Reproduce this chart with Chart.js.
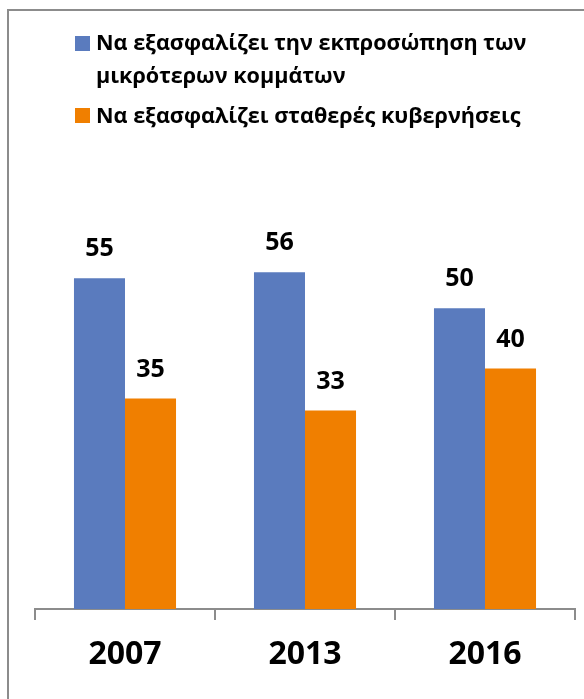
<!DOCTYPE html>
<html>
<head>
<meta charset="utf-8">
<script src="https://cdn.jsdelivr.net/npm/chart.js@4"></script>
<style>
  html, body { margin: 0; padding: 0; width: 584px; height: 699px; overflow: hidden; background: #fff; }
  #frame { position: absolute; left: 7px; top: 9px; width: 620px; height: 720px; border: 2px solid #8c8c8c; box-sizing: border-box; }
  #wrap { position: absolute; left: 0; top: 0; width: 584px; height: 699px; }
  .leg { position: absolute; font-family: "Open Sans", sans-serif; font-weight: bold; font-size: 21.6px; color: #000; line-height: 33px; white-space: nowrap; }
  .sw { position: absolute; width: 15px; height: 15px; }
</style>
</head>
<body>
<div id="frame"></div>
<div id="wrap"><canvas id="c" width="584" height="699"></canvas></div>
<div class="sw" id="sw0" style="left:75px; top:36px;"></div>
<div class="leg" id="lg0" style="left:96px; top:25px;"></div>
<div class="sw" id="sw1" style="left:75px; top:108px;"></div>
<div class="leg" id="lg1" style="left:96px; top:98px;"></div>
<script>
const categories = ["2007", "2013", "2016"];
const seriesNames = [
  ["Να εξασφαλίζει την εκπροσώπηση των", "μικρότερων κομμάτων"],
  ["Να εξασφαλίζει σταθερές κυβερνήσεις"]
];
const smallPartiesValues = [55, 56, 50];
const stableGovValues = [35, 33, 40];
const colors = ["#5A7BBE", "#F07F00"];

// HTML legend (real text)
seriesNames.forEach((lines, i) => {
  document.getElementById("sw" + i).style.background = colors[i];
  document.getElementById("lg" + i).innerHTML = lines.join("<br>");
});

const labelPlugin = {
  id: "barLabels",
  afterDatasetsDraw(chart) {
    const ctx = chart.ctx;
    ctx.save();
    ctx.font = "bold 25px 'Open Sans', sans-serif";
    ctx.fillStyle = "#000";
    ctx.textAlign = "center";
    ctx.textBaseline = "middle";
    chart.data.datasets.forEach((ds, di) => {
      const meta = chart.getDatasetMeta(di);
      meta.data.forEach((bar, i) => {
        ctx.fillText(String(ds.data[i]), bar.x, bar.y - 29);
      });
    });
    ctx.restore();
  }
};

new Chart(document.getElementById("c"), {
  type: "bar",
  data: {
    labels: categories,
    datasets: [
      { label: seriesNames[0].join(" "), data: smallPartiesValues, backgroundColor: colors[0], borderWidth: 0 },
      { label: seriesNames[1].join(" "), data: stableGovValues, backgroundColor: colors[1], borderWidth: 0 }
    ]
  },
  options: {
    responsive: false,
    maintainAspectRatio: false,
    animation: false,
    devicePixelRatio: 1,
    layout: { padding: { left: 35, right: 9, top: 188, bottom: 0 } },
    datasets: { bar: { categoryPercentage: 0.567, barPercentage: 1.0 } },
    plugins: { legend: { display: false }, tooltip: { enabled: false } },
    scales: {
      x: {
        grid: { display: true, drawOnChartArea: false, drawTicks: true, tickLength: 11, color: "#8c8c8c", lineWidth: 2, offset: true },
        border: { display: true, color: "#8c8c8c", width: 2 },
        ticks: { color: "#000", font: { family: "'Open Sans', sans-serif", weight: "bold", size: 32 }, padding: 16 },
        afterFit(scale) { scale.height = 90; }
      },
      y: { display: false, min: 0, max: 70 }
    }
  },
  plugins: [labelPlugin]
});
</script>
</body>
</html>
